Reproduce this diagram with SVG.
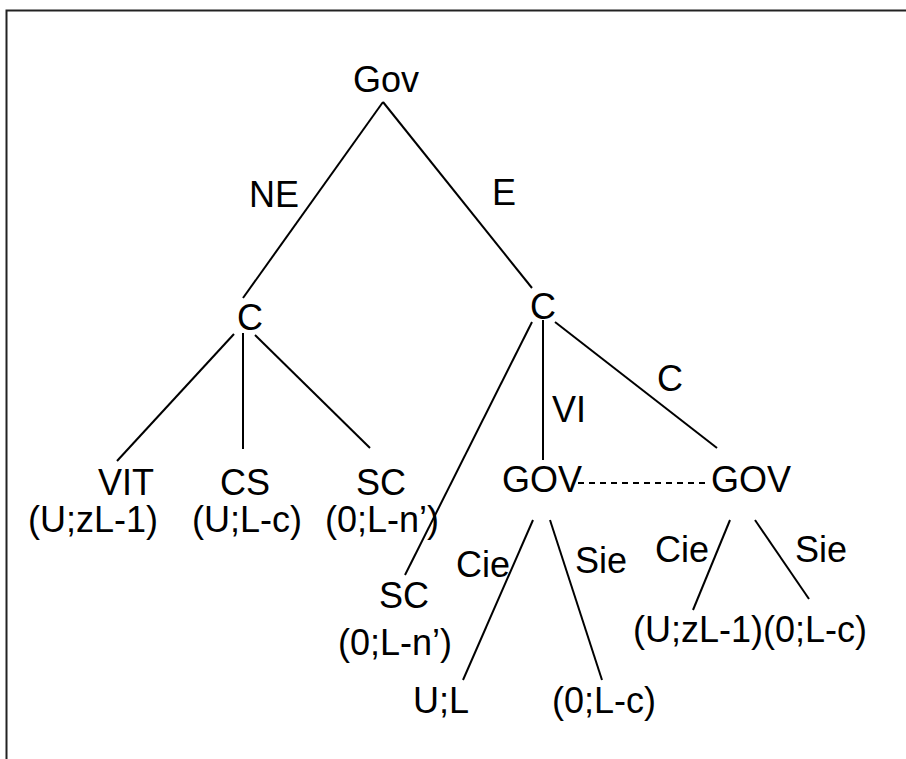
<svg xmlns="http://www.w3.org/2000/svg" width="906" height="759" viewBox="0 0 906 759">
<style>
text{font-family:"Liberation Sans",Arial,sans-serif;font-size:36px;fill:#000}
.e{stroke:#000;stroke-width:2;fill:none}
.d{stroke:#000;stroke-width:2;stroke-dasharray:6 5;fill:none}
</style>
<rect x="0" y="0" width="906" height="759" fill="#fff"/>
<path d="M6.5 759V10.5H906" stroke="#222" stroke-width="2" fill="none"/>
<g id="connectors">
<line class="e" x1="383" y1="102" x2="243" y2="298"/>
<line class="e" x1="383" y1="102" x2="532" y2="288"/>
<line class="e" x1="234" y1="334" x2="117" y2="461"/>
<line class="e" x1="243" y1="333" x2="243" y2="449"/>
<line class="e" x1="255" y1="335" x2="370" y2="448"/>
<line class="e" x1="532" y1="322" x2="405" y2="575"/>
<line class="e" x1="543" y1="320" x2="543" y2="460"/>
<line class="e" x1="555" y1="322" x2="717" y2="448"/>
<line class="d" x1="578" y1="483" x2="707" y2="483"/>
<line class="e" x1="533" y1="520" x2="463" y2="680"/>
<line class="e" x1="550" y1="520" x2="602" y2="680"/>
<line class="e" x1="730" y1="520" x2="693" y2="610"/>
<line class="e" x1="755" y1="520" x2="809" y2="599"/>
<text x="249" y="207">NE</text>
<text x="492" y="205">E</text>
<text x="552" y="422">VI</text>
<text x="657" y="391">C</text>
<text x="456" y="577">Cie</text>
<text x="575" y="573">Sie</text>
<text x="655" y="562">Cie</text>
<text x="795" y="562">Sie</text>
</g>
<g id="gov-root"><text x="353" y="92">Gov</text></g>
<g id="c-left"><text x="237" y="330">C</text></g>
<g id="c-right"><text x="530" y="319">C</text></g>
<g id="vit"><text x="98" y="495">VIT</text><text x="28" y="532">(U;zL-1)</text></g>
<g id="cs"><text x="220" y="495">CS</text><text x="192" y="532">(U;L-c)</text></g>
<g id="sc-left"><text x="356" y="495">SC</text><text x="325" y="532">(0;L-n’)</text></g>
<g id="gov-left"><text x="502" y="492">GOV</text></g>
<g id="gov-right"><text x="711" y="492">GOV</text></g>
<g id="sc-low"><text x="379" y="608">SC</text><text x="338" y="655">(0;L-n’)</text></g>
<g id="ul"><text x="413" y="713">U;L</text></g>
<g id="olc"><text x="552" y="713">(0;L-c)</text></g>
<g id="uzl"><text x="633" y="642">(U;zL-1)</text></g>
<g id="olc2"><text x="763" y="642">(0;L-c)</text></g>
</svg>
